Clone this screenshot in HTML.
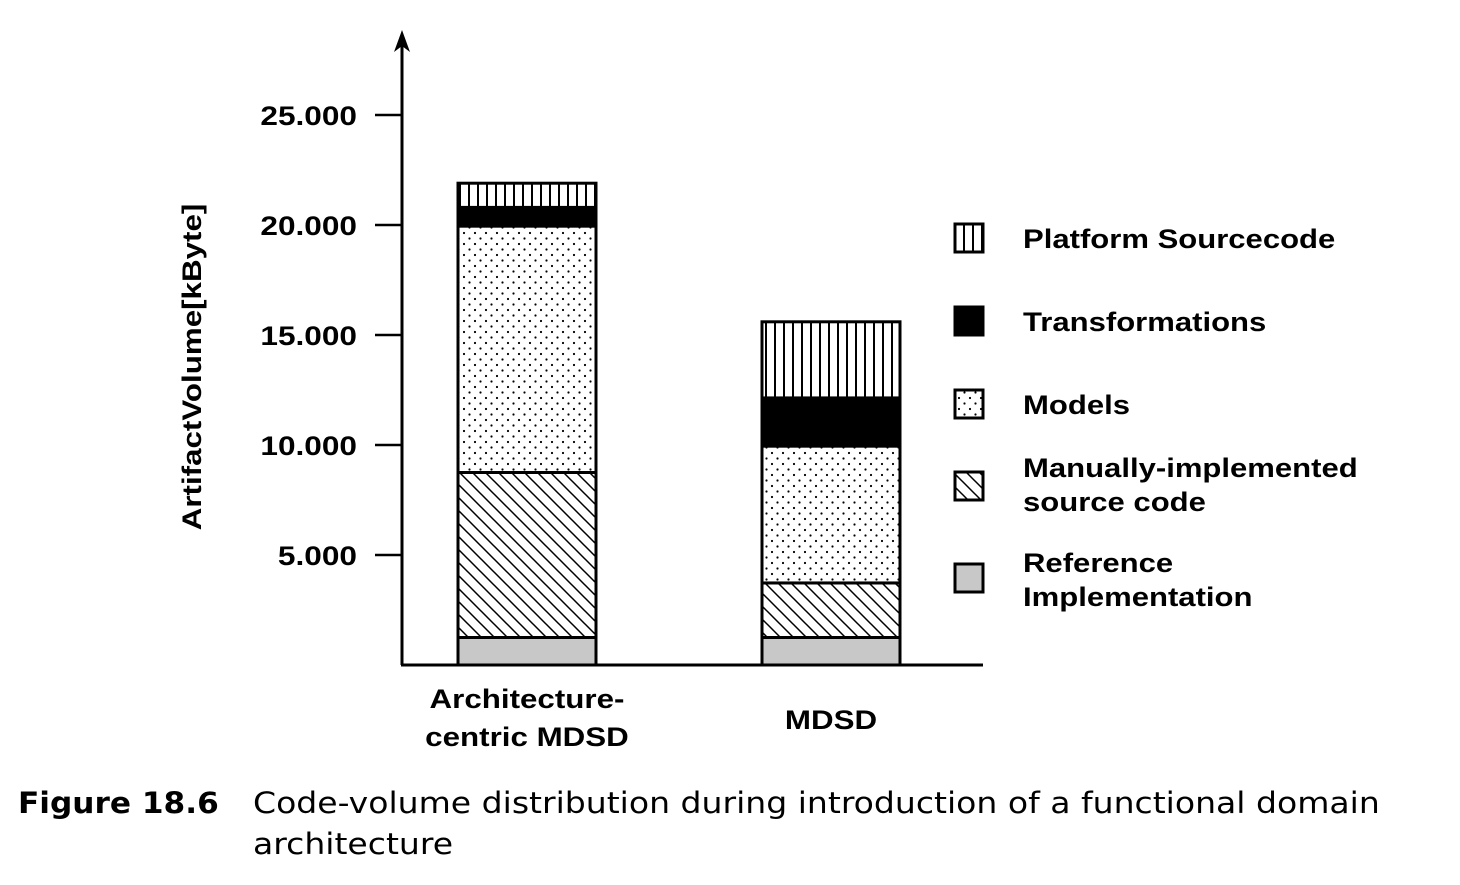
<!DOCTYPE html>
<html><head><meta charset="utf-8"><style>
body{margin:0;background:#fff;width:1460px;height:880px;overflow:hidden}
svg{font-family:"Liberation Sans",Arial,sans-serif}
</style></head><body>
<svg width="1460" height="880">
<defs>
<pattern id="vl" width="9" height="10" patternUnits="userSpaceOnUse"><rect width="9" height="10" fill="#fff"/><rect x="0" width="2" height="10" fill="#000"/></pattern>
<pattern id="dots" width="11" height="11" patternUnits="userSpaceOnUse"><rect width="11" height="11" fill="#fff"/><circle cx="2" cy="2" r="1.1" fill="#000"/><circle cx="7.5" cy="7.5" r="1.1" fill="#000"/></pattern>
<pattern id="diag" width="13" height="13" patternUnits="userSpaceOnUse"><rect width="13" height="13" fill="#fff"/><path d="M-3,-3 L16,16 M-3,10 L3,16 M10,-3 L16,3" stroke="#000" stroke-width="1.5"/></pattern>
</defs>
<g id="axes"></g>
<g id="bars"></g>
<g id="legend"></g>
<text class="sc" data-f="1.075" x="18" y="813" font-family="DejaVu Sans, sans-serif" font-weight="bold" font-size="29">Figure 18.6</text>
<text class="sc" data-f="1.14" x="253" y="813" font-family="DejaVu Sans, sans-serif" font-size="29">Code-volume distribution during introduction of a functional domain</text>
<text class="sc" data-f="1.14" x="253" y="854" font-family="DejaVu Sans, sans-serif" font-size="29">architecture</text>
</svg>
<script>
const categories=["Architecture-centric MDSD","MDSD"];
const seriesNames=["Reference Implementation","Manually-implemented source code","Models","Transformations","Platform Sourcecode"];
const refImpl=[1250,1250];
const manual=[7500,2480];
const models=[11200,6220];
const transf=[850,2190];
const platform=[1100,3460];
const yTicks=[5000,10000,15000,20000,25000];
const yTickLabels=["5.000","10.000","15.000","20.000","25.000"];
const NS="http://www.w3.org/2000/svg";
const y0=665,pxPer=22/1000;
function y(v){return y0-v*pxPer;}
function el(tag,attrs,parent,text){const e=document.createElementNS(NS,tag);for(const k in attrs)e.setAttribute(k,attrs[k]);if(text!==undefined)e.textContent=text;parent.appendChild(e);return e;}
const axes=document.getElementById('axes');
let a=el('line',{x1:402,y1:y0,x2:402,y2:40,stroke:'#000','stroke-width':3},axes);

a=el('path',{d:'M402,30 L394,52 L402,46 L410,52 Z',fill:'#000'},axes);

a=el('line',{x1:401,y1:y0,x2:983,y2:y0,stroke:'#000','stroke-width':3},axes);

yTicks.forEach((t,i)=>{
 let l=el('line',{x1:375,y1:y(t),x2:402,y2:y(t),stroke:'#000','stroke-width':2.5},axes);
 
 let tx=el('text',{x:357,y:y(t)+10,'text-anchor':'end','font-weight':'bold','font-size':27,class:'sc','data-f':1.17},axes,yTickLabels[i]);
 
});
let yt=el('text',{transform:'translate(201,367) rotate(-90)','text-anchor':'middle','font-weight':'bold','font-size':27,class:'sc','data-f':1.16},axes,'ArtifactVolume[kByte]');

const fills=['#c8c8c8','url(#diag)','url(#dots)','#000','url(#vl)'];
const series=[refImpl,manual,models,transf,platform];
const barX=[458,762],barW=138;
const bars=document.getElementById('bars');
categories.forEach((c,ci)=>{
 let acc=0;
 series.forEach((s,si)=>{
  const v=s[ci];
  let r=el('rect',{x:barX[ci],y:y(acc+v),width:barW,height:v*pxPer,fill:fills[si],stroke:'#000','stroke-width':3},bars);
  
  acc+=v;
 });
});
let l1=el('text',{x:527,y:708,'text-anchor':'middle','font-weight':'bold','font-size':27,class:'sc','data-f':1.16},bars,'Architecture-');

let l2=el('text',{x:527,y:746,'text-anchor':'middle','font-weight':'bold','font-size':27,class:'sc','data-f':1.16},bars,'centric MDSD');

let l3=el('text',{x:831,y:729,'text-anchor':'middle','font-weight':'bold','font-size':27,class:'sc','data-f':1.16},bars,'MDSD');

const legend=document.getElementById('legend');
const leg=[[4,224,["Platform Sourcecode"],248],[3,307,["Transformations"],331],[2,390,["Models"],414],[1,472,["Manually-implemented","source code"],477],[0,564,["Reference","Implementation"],572]];
leg.forEach(([si,by,lines,ty])=>{
 let r=el('rect',{x:955,y:by,width:28,height:28,fill:fills[si],stroke:'#000','stroke-width':3},legend);
 
 lines.forEach((t,i)=>{
  let tx=el('text',{x:1023,y:ty+i*34,'font-weight':'bold','font-size':27,class:'sc','data-f':1.15},legend,t);
  
 });
});
document.querySelectorAll('text.sc').forEach(t=>{
 const w=t.getComputedTextLength();
 t.setAttribute('textLength',(w*parseFloat(t.getAttribute('data-f'))).toFixed(1));
 t.setAttribute('lengthAdjust','spacingAndGlyphs');
});
</script>
</body></html>
